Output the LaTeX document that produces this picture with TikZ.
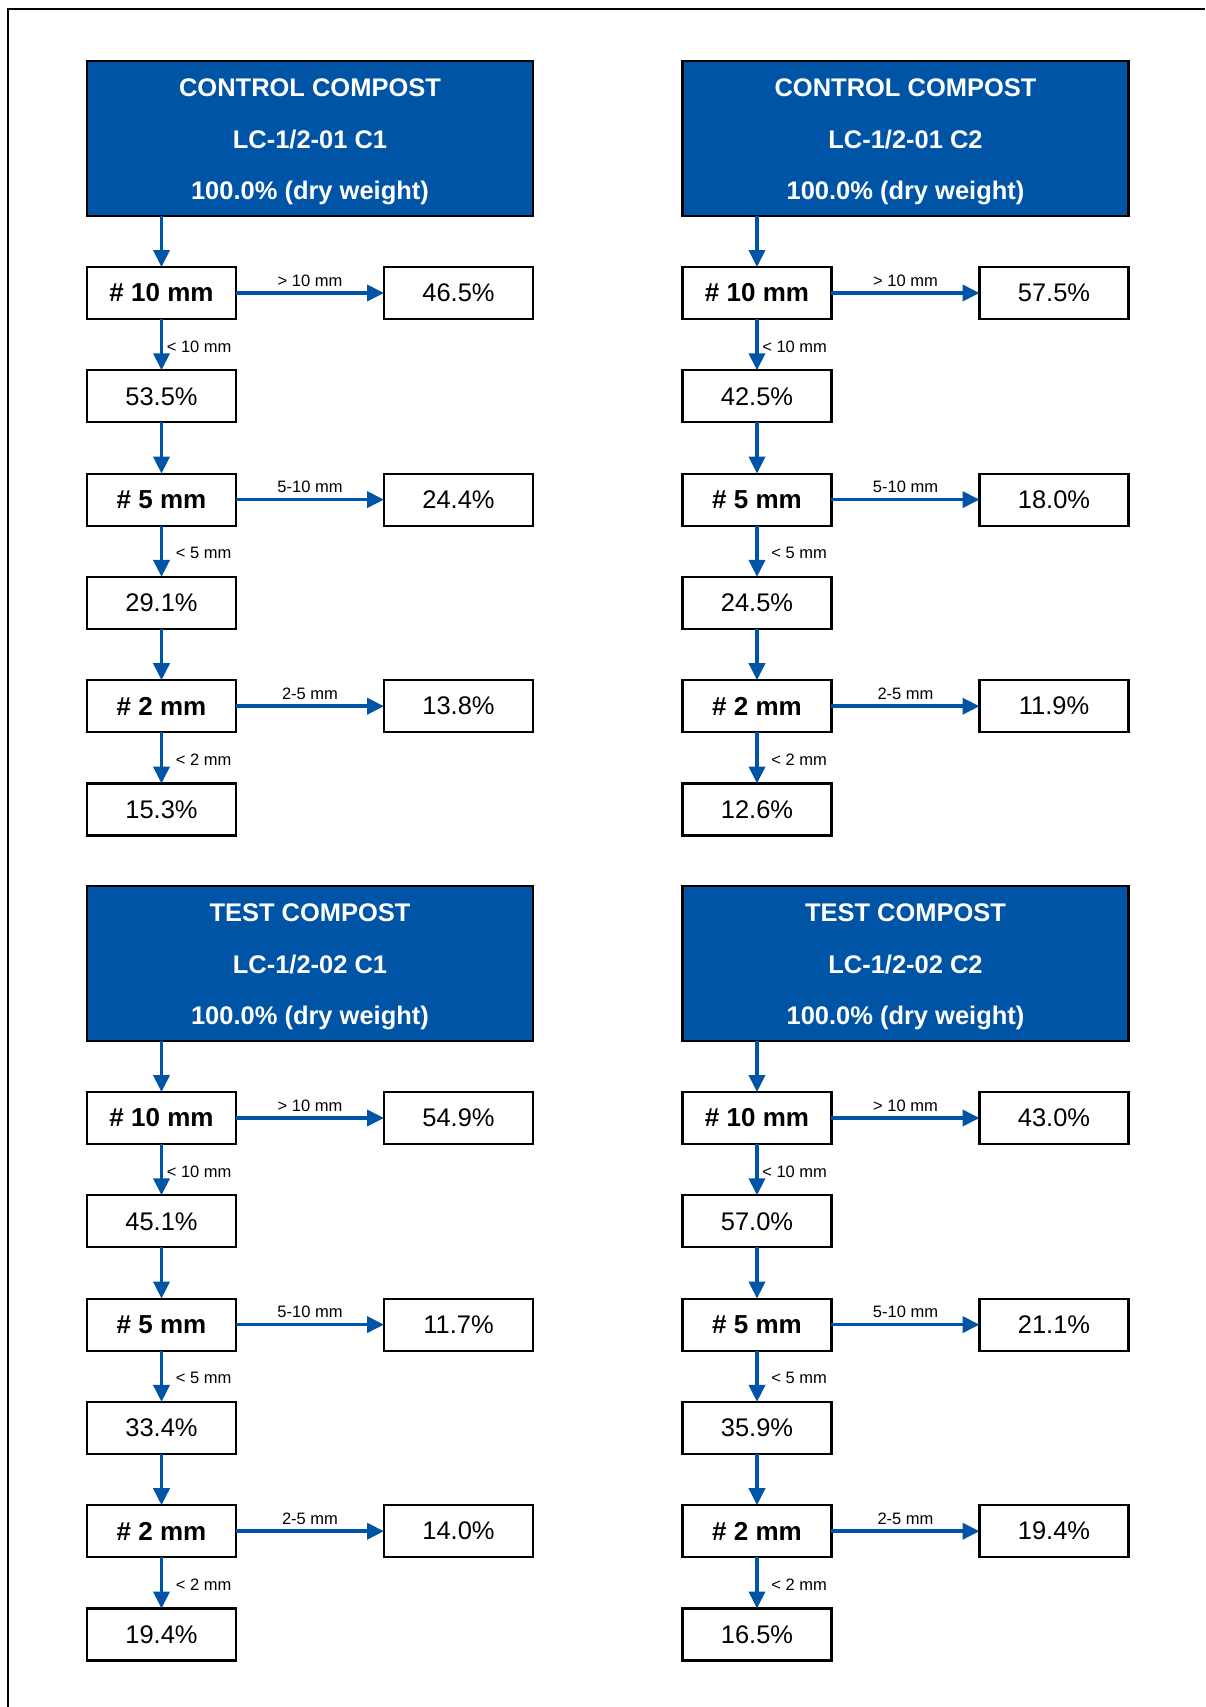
\documentclass[tikz,border=0pt]{standalone}
\usepackage{fontspec}
\setmainfont{Liberation Sans}
\usepackage{tikz}
\usetikzlibrary{arrows.meta}
\definecolor{sieveblue}{RGB}{0,84,166}
\tikzset{
  header/.style={draw=black, line width=1.2pt, fill=sieveblue, text=white,
    minimum width=8.92cm, minimum height=3.1cm, inner sep=0pt, outer sep=0pt,
    align=center, font=\fontsize{14.5}{29.4}\selectfont\bfseries},
  sieve/.style={draw=black, line width=1.2pt, minimum width=2.98cm,
    minimum height=1.04cm, inner sep=0pt, outer sep=0pt,
    font=\fontsize{14.8}{17}\selectfont\bfseries},
  frac/.style={sieve, font=\fontsize{14.5}{17}\selectfont},
  flow/.style={draw=sieveblue, line width=2.1pt, -{Triangle[length=0.34cm,width=0.32cm]}},
  cut/.style={font=\fontsize{9.4}{11}\selectfont, inner sep=1.5pt},
  over/.style={cut, above, yshift=0.04cm},
  under/.style={cut, anchor=east, xshift=1.49cm, yshift=-0.04cm}
}
\begin{document}
\begin{tikzpicture}[x=0.02cm,y=-0.02cm]
\useasboundingbox (0,0) rectangle (1205,1707);
\draw[line width=1.1pt] (7.6,1707) -- (7.6,8.7) -- (1205,8.7);
% one sieve column per sample
\foreach \col/\x/\y/\ttl/\smp/\pa/\pb/\pc/\pd/\pe/\pf in {
  a/0/0/CONTROL COMPOST/01 C1/46.5/53.5/24.4/29.1/13.8/15.3,
  b/595.5/0/CONTROL COMPOST/01 C2/57.5/42.5/18.0/24.5/11.9/12.6,
  c/0/825/TEST COMPOST/02 C1/54.9/45.1/11.7/33.4/14.0/19.4,
  d/595.5/825/TEST COMPOST/02 C2/43.0/57.0/21.1/35.9/19.4/16.5} {
\begin{scope}[shift={(\x,\y)}]
\node[header] (\col-top) at (310,138.5) {\rule{0pt}{14.2pt}\ttl\\LC-1/2-\smp\\100.0\% (dry weight)};
\node[sieve] (\col-s10) at (161.5,293) {\# 10 mm};
\node[frac] (\col-o10) at (458.5,293) {\pa\%};
\node[frac] (\col-u10) at (161.5,396.3) {\pb\%};
\node[sieve] (\col-s5) at (161.5,499.6) {\# 5 mm};
\node[frac] (\col-o5) at (458.5,499.6) {\pc\%};
\node[frac] (\col-u5) at (161.5,602.9) {\pd\%};
\node[sieve] (\col-s2) at (161.5,706.2) {\# 2 mm};
\node[frac] (\col-o2) at (458.5,706.2) {\pe\%};
\node[frac] (\col-u2) at (161.5,809.5) {\pf\%};
\draw[flow] (\col-top.south -| \col-s10.north) -- (\col-s10.north);
\draw[flow] (\col-s10) -- node[over] {> 10 mm} (\col-o10);
\draw[flow] (\col-s10) -- node[under] {< 10 mm} (\col-u10);
\draw[flow] (\col-u10) -- (\col-s5);
\draw[flow] (\col-s5) -- node[over] {5-10 mm} (\col-o5);
\draw[flow] (\col-s5) -- node[under] {< 5 mm} (\col-u5);
\draw[flow] (\col-u5) -- (\col-s2);
\draw[flow] (\col-s2) -- node[over] {2-5 mm} (\col-o2);
\draw[flow] (\col-s2) -- node[under] {< 2 mm} (\col-u2);
\end{scope}
}
\end{tikzpicture}
\end{document}
